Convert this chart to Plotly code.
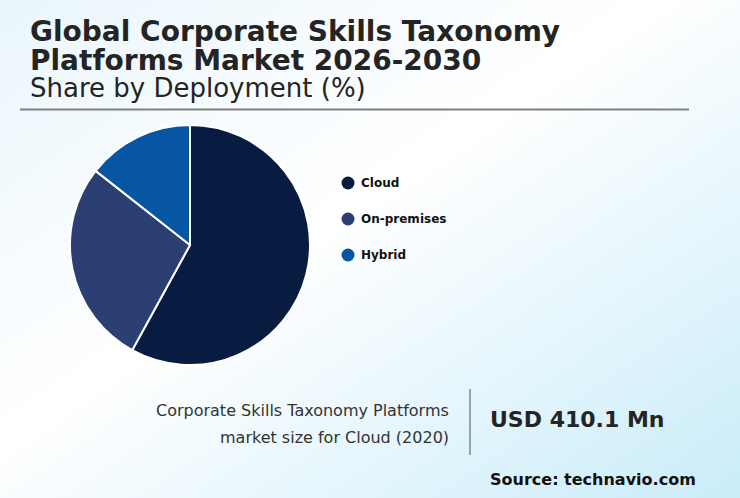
import plotly.graph_objects as go
import urllib.parse

# ---- data ----
categories = ["Cloud", "On-premises", "Hybrid"]
shares = [58.0, 27.6, 14.4]
colors = ["#081c42", "#2b3f72", "#0656a4"]

title_lines = ["Global Corporate Skills Taxonomy", "Platforms Market 2026-2030"]
subtitle = "Share by Deployment (%)"
kpi_label = ["Corporate Skills Taxonomy Platforms", "market size for Cloud (2020)"]
kpi_value = "USD 410.1 Mn"
source = "Source: technavio.com"

W, H = 740, 498
FONT = "DejaVu Sans"

def px(x):
    return x / W

def py(y):
    return 1 - y / H

fig = go.Figure()

fig.add_trace(go.Pie(
    labels=categories,
    values=shares,
    marker=dict(colors=colors, line=dict(color="white", width=2)),
    sort=False,
    direction="clockwise",
    rotation=0,
    textinfo="none",
    hoverinfo="label+percent",
    showlegend=False,
    domain=dict(x=[px(70), px(310)], y=[py(365), py(125)]),
))

# background gradient
svg = (
    '<svg xmlns="http://www.w3.org/2000/svg" width="740" height="498" preserveAspectRatio="none">'
    '<defs><linearGradient id="g" x1="0" y1="0" x2="1" y2="1">'
    '<stop offset="0" stop-color="#eaf6fc"/>'
    '<stop offset="0.45" stop-color="#ffffff"/>'
    '<stop offset="1" stop-color="#c9ecf9"/>'
    '</linearGradient></defs>'
    '<rect width="740" height="498" fill="url(#g)"/></svg>'
)
bg_uri = "data:image/svg+xml;charset=utf-8," + urllib.parse.quote(svg)

annotations = []
# titles
for i, line in enumerate(title_lines):
    annotations.append(dict(
        x=px(29), y=py(31 + i * 30), xref="paper", yref="paper",
        text=f"<b>{line}</b>", showarrow=False, xanchor="left", yanchor="middle",
        borderpad=0,
        font=dict(family=FONT, size=28, color="#242424"),
    ))
annotations.append(dict(
    x=px(29), y=py(88), xref="paper", yref="paper",
    text=subtitle, showarrow=False, xanchor="left", yanchor="middle",
    borderpad=0,
    font=dict(family=FONT, size=26, color="#242424"),
))

shapes = [
    dict(type="line", xref="paper", yref="paper", x0=px(20), x1=px(689), y0=py(109.5), y1=py(109.5),
         line=dict(color="#808080", width=2)),
    dict(type="line", xref="paper", yref="paper", x0=px(470), x1=px(470), y0=py(389), y1=py(455),
         line=dict(color="#7a8aa0", width=1.5)),
]

# legend
for i, (cat, col) in enumerate(zip(categories, colors)):
    yc = 183 + i * 36
    shapes.append(dict(type="circle", xref="paper", yref="paper",
                       x0=px(341.5), x1=px(354.5), y0=py(yc + 6.5), y1=py(yc - 6.5),
                       fillcolor=col, line=dict(width=0)))
    annotations.append(dict(
        x=px(359), y=py(yc), xref="paper", yref="paper",
        text=f"<b>{cat}</b>", showarrow=False, xanchor="left", yanchor="middle",
        font=dict(family=FONT, size=12, color="#111111"),
    ))

# KPI block
for i, line in enumerate(kpi_label):
    annotations.append(dict(
        x=px(451), y=py(410 + i * 27), xref="paper", yref="paper",
        text=line, showarrow=False, xanchor="right", yanchor="middle",
        font=dict(family=FONT, size=16, color="#333333"),
    ))
annotations.append(dict(
    x=px(488), y=py(419), xref="paper", yref="paper",
    text=f"<b>{kpi_value}</b>", showarrow=False, xanchor="left", yanchor="middle",
    font=dict(family=FONT, size=22, color="#242424"),
))
annotations.append(dict(
    x=px(488), y=py(479), xref="paper", yref="paper",
    text=f"<b>{source}</b>", showarrow=False, xanchor="left", yanchor="middle",
    font=dict(family=FONT, size=16, color="#111111"),
))

fig.update_layout(
    width=W, height=H,
    margin=dict(l=0, r=0, t=0, b=0),
    paper_bgcolor="white",
    plot_bgcolor="rgba(0,0,0,0)",
    images=[dict(source=bg_uri, xref="paper", yref="paper", x=0, y=1,
                 sizex=1, sizey=1, xanchor="left", yanchor="top",
                 sizing="stretch", layer="below")],
    annotations=annotations,
    shapes=shapes,
    showlegend=False,
)

fig.write_html("out.html", config={"displayModeBar": False},
               post_script="document.body.style.margin='0';")
